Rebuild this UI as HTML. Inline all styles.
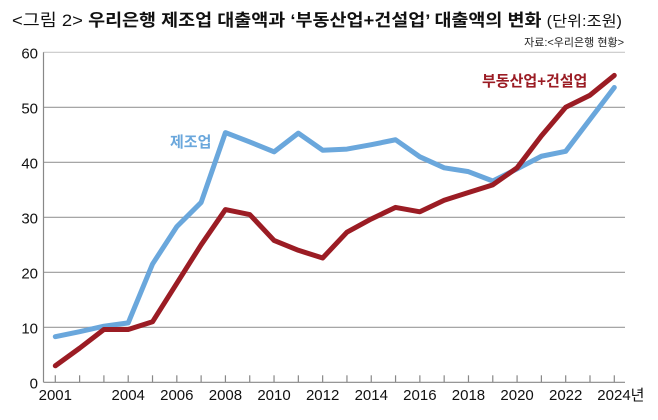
<!DOCTYPE html>
<html><head><meta charset="utf-8"><style>
body{margin:0;background:#fff;width:658px;height:415px;overflow:hidden;font-family:"Liberation Sans","Noto Sans CJK KR",sans-serif}
svg text{font-family:"Liberation Sans","Noto Sans CJK KR",sans-serif}
</style></head><body>
<svg width="658" height="415">
<text x="12" y="26" font-size="17" font-weight="bold" fill="#111" textLength="610" lengthAdjust="spacingAndGlyphs"><tspan font-weight="normal">&lt;그림 2&gt;</tspan> 우리은행 제조업 대출액과 ‘부동산업+건설업’ 대출액의 변화 <tspan font-weight="normal" font-size="15">(단위:조원)</tspan></text>
<text x="624" y="46" font-size="11" text-anchor="end" fill="#222">자료:&lt;우리은행 현황&gt;</text>
<g id="grid"></g><g id="axes"></g><g id="lines"></g>
<text x="170" y="147" font-size="15" font-weight="bold" fill="#6aa7dc">제조업</text>
<text x="482" y="86" font-size="15" font-weight="bold" fill="#9b1c24">부동산업+건설업</text>
</svg>
<script>
const years=[2001,2002,2003,2004,2005,2006,2007,2008,2009,2010,2011,2012,2013,2014,2015,2016,2017,2018,2019,2020,2021,2022,2023,2024];
const manufacturing=[8.3,9.2,10.2,10.8,21.5,28.3,32.7,45.4,43.7,41.9,45.3,42.2,42.4,43.2,44.1,41.0,39.0,38.3,36.6,38.8,41.1,42.0,47.8,53.6];
const realEstate=[3.0,6.2,9.6,9.6,11.0,18.0,25.0,31.4,30.5,25.8,24.0,22.6,27.3,29.7,31.8,31.0,33.1,34.5,35.9,39.0,44.8,50.0,52.2,55.8];
const yTicks=[0,10,20,30,40,50,60];
const xLabels=[2001,2004,2006,2008,2010,2012,2014,2016,2018,2020,2022,2024];
const NS="http://www.w3.org/2000/svg";
const x=y=>55.3+(y-2001)*(614.3-55.3)/23;
const yv=v=>382.3-v*5.5;
function mk(t,a,p){const e=document.createElementNS(NS,t);for(const k in a)e.setAttribute(k,a[k]);p.appendChild(e);return e;}
const grid=document.getElementById('grid'),axes=document.getElementById('axes'),lines=document.getElementById('lines');
yTicks.forEach(v=>{
 if(v>0){const l=mk('line',{x1:43.5,x2:625,y1:yv(v),y2:yv(v),stroke:v==60?'#c8c8c8':'#999','stroke-width':1.2},grid);
 
 }
 const t=mk('text',{x:38,y:yv(v)+6,'font-size':15,'text-anchor':'end',fill:'#111'},axes);t.textContent=v;
 
 
});
const ya=mk('line',{x1:43.5,x2:43.5,y1:yv(60),y2:yv(0),stroke:'#888','stroke-width':1.2},axes);


const xa=mk('line',{x1:43.5,x2:625,y1:yv(0),y2:yv(0),stroke:'#888','stroke-width':1.2},axes);


years.forEach(yr=>{const tk=mk('line',{x1:x(yr),x2:x(yr),y1:yv(0)-7,y2:yv(0),stroke:'#888','stroke-width':1.2},axes);
 
 });
xLabels.forEach(yr=>{const t=mk('text',{x:x(yr),y:400,'font-size':15,'text-anchor':'middle',fill:'#111'},axes);t.textContent=yr==2024?'2024년':yr;
 if(yr==2024){t.setAttribute('text-anchor','start');t.setAttribute('x',x(yr)-17);}
 
 });
function series(d,c,n){const p=mk('polyline',{points:d.map((v,i)=>x(years[i])+','+yv(v)).join(' '),fill:'none',stroke:c,'stroke-width':5,'stroke-linejoin':'round','stroke-linecap':'round'},lines);
 
 }
series(manufacturing,'#6aa7dc','line-manufacturing');
series(realEstate,'#9b1c24','line-realestate-construction');
</script>
</body></html>
